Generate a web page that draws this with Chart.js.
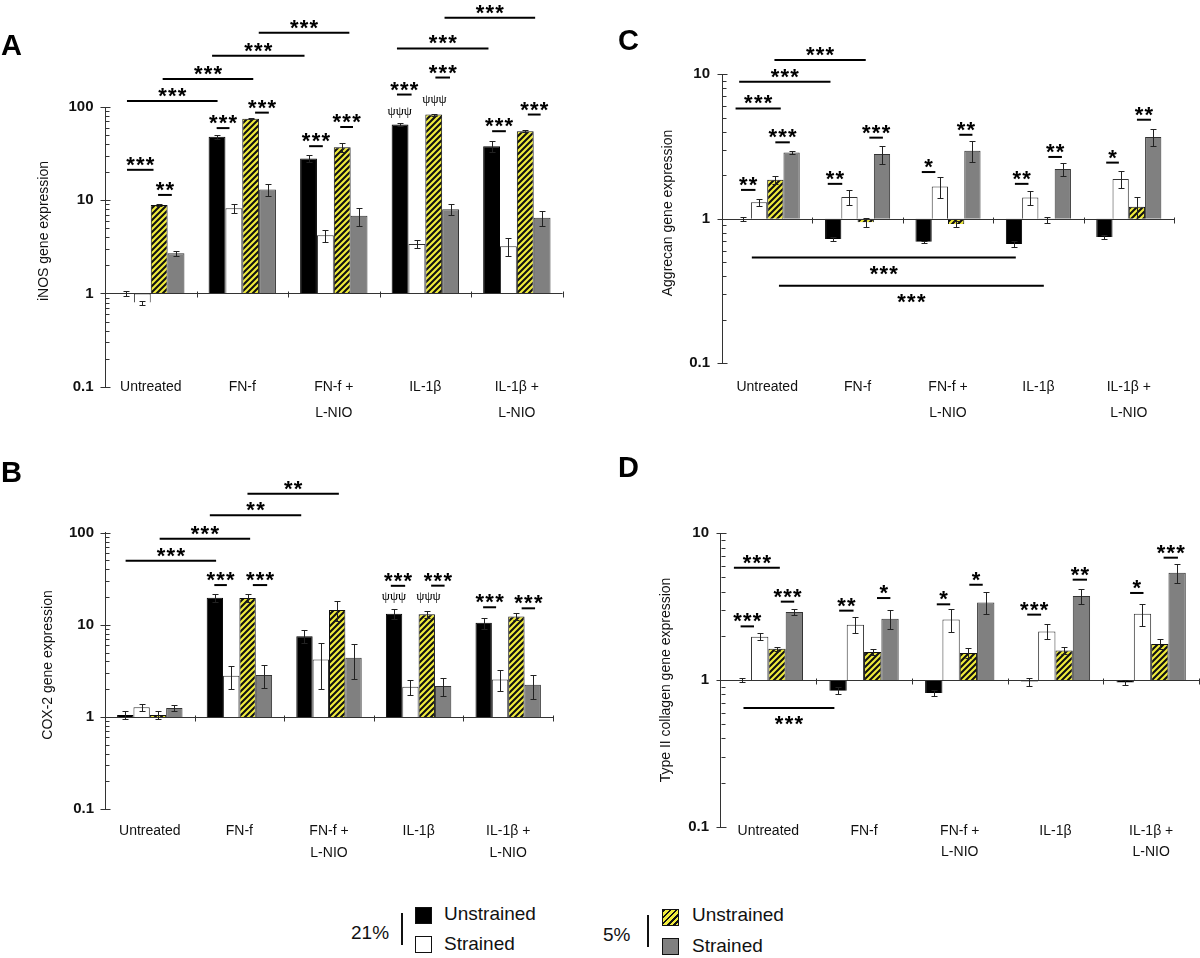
<!DOCTYPE html>
<html>
<head>
<meta charset="utf-8">
<title>Gene expression under strain and oxygen tension</title>
<script src="https://cdn.jsdelivr.net/npm/chart.js@4.4.1/dist/chart.umd.min.js"></script>
<style>
  body { margin: 0; background: #fff; width: 1200px; height: 958px; position: relative; overflow: hidden;
         font-family: "Liberation Sans", Arial, Helvetica, sans-serif; color: #111; }
  .panel { position: absolute; width: 600px; height: 440px; }
  .lg { position: absolute; font-size: 19px; line-height: 20px; white-space: nowrap; }
  .sw { position: absolute; width: 15px; height: 15px; border: 1px solid #111; }
  .bar { position: absolute; width: 2px; background: #111; }
</style>
</head>
<body>
<div class="panel" style="left:0;top:0"><canvas id="chartA" width="600" height="440"></canvas></div>
<div class="panel" style="left:0;top:440px"><canvas id="chartB" width="600" height="440"></canvas></div>
<div class="panel" style="left:600px;top:0"><canvas id="chartC" width="600" height="440"></canvas></div>
<div class="panel" style="left:600px;top:440px"><canvas id="chartD" width="600" height="440"></canvas></div>

<!-- legend shared by the four panels -->
<div class="lg" style="left:351px;top:923px">21%</div>
<div class="bar" style="left:401px;top:913px;height:32px"></div>
<div class="sw" style="left:415px;top:907px;background:#000"></div>
<div class="lg" style="left:444px;top:904px">Unstrained</div>
<div class="sw" style="left:415px;top:936px;background:#fff"></div>
<div class="lg" style="left:444px;top:934px">Strained</div>
<div class="lg" style="left:603px;top:925px">5%</div>
<div class="bar" style="left:647px;top:915px;height:32px"></div>
<div class="sw" style="left:662px;top:909px;background:repeating-linear-gradient(135deg,#111 0 2px,#f0ec3c 2px 4.3px)"></div>
<div class="lg" style="left:692px;top:905px">Unstrained</div>
<div class="sw" style="left:662px;top:938px;background:#808080"></div>
<div class="lg" style="left:692px;top:936px">Strained</div>

<script>
// categories and series
const categories = ['Untreated', 'FN-f', ['FN-f +', 'L-NIO'], 'IL-1β', ['IL-1β +', 'L-NIO']];
const seriesLabels = ['21% Unstrained', '21% Strained', '5% Unstrained', '5% Strained'];

// y tick labels (log axes)
const yTickValues = [0.1, 1, 10, 100];
const yTickLabels = ['0.1', '1', '10', '100'];

// A - iNOS
const inosUnstr21 = [1.0, 48, 28, 65, 38];
const inosStr21 = [0.8, 8.2, 4.2, 3.4, 3.2];
const inosUnstr5 = [8.9, 75, 37, 83, 55];
const inosStr5 = [2.7, 13, 6.8, 8.0, 6.5];
const inosUnstr21Err = [0.05, 2.5, 2.4, 2.5, 5.0];
const inosStr21Err = [0.04, 0.9, 0.65, 0.35, 0.7];
const inosUnstr5Err = [0.2, 1.0, 4.0, 2.0, 1.5];
const inosStr5Err = [0.15, 1.8, 1.5, 1.1, 1.2];

// B - COX-2
const coxUnstr21 = [1.05, 19.7, 7.5, 13.2, 10.5];
const coxStr21 = [1.27, 2.8, 4.2, 2.12, 2.55];
const coxUnstr5 = [1.05, 19.5, 14.5, 13.0, 12.3];
const coxStr5 = [1.25, 2.85, 4.4, 2.17, 2.23];
const coxUnstr21Err = [0.1, 2.0, 1.2, 1.5, 1.5];
const coxStr21Err = [0.1, 0.8, 2.2, 0.4, 0.65];
const coxUnstr5Err = [0.1, 2.0, 3.5, 1.0, 1.0];
const coxStr5Err = [0.1, 0.8, 1.8, 0.5, 0.65];

// C - Aggrecan
const aggUnstr21 = [1.0, 0.724, 0.693, 0.668, 0.747];
const aggStr21 = [1.3, 1.41, 1.67, 1.4, 1.88];
const aggUnstr5 = [1.86, 0.943, 0.92, 0.98, 1.21];
const aggStr5 = [2.87, 2.8, 2.95, 2.2, 3.67];
const aggUnstr21Err = [0.03, 0.025, 0.01, 0.03, 0.02];
const aggStr21Err = [0.07, 0.17, 0.27, 0.15, 0.25];
const aggUnstr5Err = [0.12, 0.07, 0.04, 0.05, 0.21];
const aggStr5Err = [0.06, 0.4, 0.47, 0.23, 0.5];

// D - Type II collagen
const colUnstr21 = [1.0, 0.845, 0.815, 0.975, 0.96];
const colStr21 = [1.97, 2.38, 2.58, 2.14, 2.83];
const colUnstr5 = [1.63, 1.55, 1.53, 1.59, 1.76];
const colStr5 = [2.91, 2.62, 3.38, 3.74, 5.39];
const colUnstr21Err = [0.03, 0.045, 0.035, 0.06, 0.035];
const colStr21Err = [0.11, 0.3, 0.45, 0.25, 0.48];
const colUnstr5Err = [0.06, 0.08, 0.12, 0.09, 0.13];
const colStr5Err = [0.15, 0.38, 0.58, 0.42, 0.8];

// significance marks: [from, to] in category units, y value, stars, side
const sigInos = [
  [-0.26, 0.73, 116, '***'], [0.13, 1.12, 200, '***'], [0.67, 1.68, 354, '***'],
  [1.18, 2.17, 625, '***'], [2.69, 3.69, 425, '***'], [3.21, 4.20, 906, '***'],
  [-0.26, 0.03, 21.2, '***'], [0.08, 0.23, 11.4, '**'],
  [0.72, 0.86, 59.4, '***'], [1.14, 1.29, 87, '***'],
  [1.73, 1.88, 38, '***'], [2.07, 2.21, 61, '***'],
  [2.69, 2.85, 136, '***'], [3.11, 3.27, 207, '***'],
  [3.73, 3.88, 55, '***'], [4.12, 4.26, 83, '***']
];
const psiInos = [[2.72, 90, 'ψψψ'], [3.10, 120, 'ψψψ']];

const sigCox = [
  [-0.27, 0.74, 49.6, '***'], [0.11, 1.12, 86, '***'], [0.67, 1.69, 155, '**'],
  [1.09, 2.11, 265, '**'],
  [0.72, 0.86, 27, '***'], [1.15, 1.31, 27, '***'],
  [2.69, 2.85, 26.5, '***'], [3.14, 3.29, 26.6, '***'],
  [3.72, 3.865, 15.5, '***'], [4.15, 4.30, 15.1, '***']
];
const psiCox = [[2.725, 20.2, 'ψψψ'], [3.11, 20.2, 'ψψψ']];

const sigAgg = [
  [-0.35, 0.15, 5.78, '***'], [-0.31, 0.70, 8.85, '***'], [0.08, 1.09, 12.5, '***'],
  [-0.17, 2.75, 0.538, '***', 'below'], [0.13, 3.06, 0.344, '***', 'below'],
  [-0.29, -0.13, 1.58, '**'], [0.09, 0.25, 3.37, '***'],
  [0.67, 0.83, 1.74, '**'], [1.13, 1.28, 3.63, '***'],
  [1.71, 1.86, 2.1, '*'], [2.125, 2.27, 3.8, '**'],
  [2.74, 2.89, 1.74, '**'], [3.11, 3.26, 2.67, '**'],
  [3.75, 3.89, 2.44, '*'], [4.09, 4.245, 4.83, '**']
];

const sigCol = [
  [-0.36, 0.12, 5.83, '***'], [-0.26, 0.69, 0.644, '***', 'below'],
  [-0.29, -0.15, 2.32, '***'], [0.13, 0.27, 3.42, '***'],
  [0.74, 0.89, 2.97, '**'], [1.135, 1.275, 3.62, '*'],
  [1.76, 1.90, 3.28, '*'], [2.10, 2.24, 4.46, '*'],
  [2.705, 2.85, 2.79, '***'], [3.18, 3.33, 4.83, '**'],
  [3.78, 3.92, 3.92, '*'], [4.13, 4.28, 6.82, '***']
];

const FONT = '"Liberation Sans", Arial, Helvetica, sans-serif';

// yellow / black diagonal hatch
function makeHatch(ctx) {
  const c = document.createElement('canvas');
  c.width = 6; c.height = 6;
  const g = c.getContext('2d');
  g.fillStyle = '#f0ec3c';
  g.fillRect(0, 0, 6, 6);
  g.strokeStyle = '#111';
  g.lineWidth = 2.1;
  g.beginPath();
  g.moveTo(-3, 3); g.lineTo(3, -3);
  g.moveTo(-1, 7); g.lineTo(7, -1);
  g.moveTo(3, 9); g.lineTo(9, 3);
  g.stroke();
  return ctx.createPattern(c, 'repeat');
}

function logTicks(min, max) {
  const out = [];
  for (let d = min; d < max * 0.99; d *= 10) {
    for (let k = 1; k <= 9; k++) out.push(Number((k * d).toPrecision(3)));
  }
  out.push(max);
  return out;
}

// baseline at 1, y ticks, error bars, significance marks, panel texts
const figurePlugin = {
  id: 'figure',
  afterDatasetsDraw(chart, args, opts) {
    const ctx = chart.ctx;
    const xs = chart.scales.x, ys = chart.scales.y;
    const area = chart.chartArea;
    const x0 = xs.getPixelForValue(0);
    const w = xs.getPixelForValue(1) - x0;
    const px = pos => x0 + pos * w;

    ctx.save();
    ctx.strokeStyle = '#333';
    ctx.lineWidth = 1;

    // line at 1 with category ticks
    const yOne = Math.round(ys.getPixelForValue(1)) + 0.5;
    ctx.beginPath();
    ctx.moveTo(area.left, yOne); ctx.lineTo(area.right, yOne);
    for (let k = 1; k <= categories.length; k++) {
      const bx = Math.round(area.left + k * w) + 0.5;
      ctx.moveTo(bx, yOne - 2); ctx.lineTo(bx, yOne + 4);
    }
    // y ticks: majors cross the axis, minors point inwards
    const ax = Math.round(area.left) + 0.5;
    ys.ticks.forEach(t => {
      const ty = Math.round(ys.getPixelForValue(t.value)) + 0.5;
      if (yTickValues.includes(t.value)) { ctx.moveTo(ax - 5, ty); ctx.lineTo(ax + 5, ty); }
      else { ctx.moveTo(ax, ty); ctx.lineTo(ax + 4, ty); }
    });
    ctx.stroke();

    // error bars
    ctx.strokeStyle = '#222';
    chart.data.datasets.forEach((ds, i) => {
      chart.getDatasetMeta(i).data.forEach((bar, j) => {
        const v = ds.data[j][1], e = ds.errors[j];
        const bx = Math.round(bar.x) + 0.5;
        const top = Math.round(ys.getPixelForValue(v + e)) + 0.5;
        const bot = Math.round(ys.getPixelForValue(v - e)) + 0.5;
        ctx.beginPath();
        ctx.moveTo(bx, top); ctx.lineTo(bx, bot);
        ctx.moveTo(bx - 3, top); ctx.lineTo(bx + 3, top);
        ctx.moveTo(bx - 3, bot); ctx.lineTo(bx + 3, bot);
        ctx.stroke();
      });
    });

    // significance lines and stars
    ctx.strokeStyle = '#000';
    ctx.fillStyle = '#000';
    ctx.lineWidth = 2;
    ctx.font = 'bold 22px ' + FONT;
    ctx.textAlign = 'center';
    ctx.textBaseline = 'alphabetic';
    opts.sig.forEach(([a, b, val, stars, side]) => {
      const x1 = px(a), x2 = px(b);
      const y = ys.getPixelForValue(val);
      ctx.beginPath();
      ctx.moveTo(x1, y); ctx.lineTo(x2, y);
      ctx.stroke();
      const cx = (x1 + x2) / 2;
      const base = side === 'below' ? y + 23 : y + 2;
      for (let k = 0; k < stars.length; k++) {
        ctx.fillText('*', cx + (k - (stars.length - 1) / 2) * 9.8, base);
      }
    });

    ctx.font = '13px "Liberation Serif", "DejaVu Serif", serif';
    ctx.textBaseline = 'middle';
    (opts.psi || []).forEach(([pos, val, txt]) => {
      ctx.fillText(txt, px(pos), ys.getPixelForValue(val));
    });

    // panel letter and axis title
    ctx.textAlign = 'left';
    ctx.textBaseline = 'alphabetic';
    ctx.font = 'bold 29px ' + FONT;
    ctx.fillText(opts.letter, opts.letterX, opts.letterY);

    ctx.translate(opts.titleX, opts.titleY);
    ctx.rotate(-Math.PI / 2);
    ctx.textAlign = 'center';
    ctx.textBaseline = 'middle';
    ctx.font = '14px ' + FONT;
    ctx.fillStyle = '#111';
    ctx.fillText(opts.title, 0, 0);
    ctx.restore();
  }
};

function buildChart(id, cfg) {
  const canvas = document.getElementById(id);
  const ctx = canvas.getContext('2d');
  const hatch = makeHatch(ctx);
  const fills = ['#000000', '#ffffff', hatch, '#808080'];
  const borders = ['#000000', '#333333', '#111111', '#333333'];

  return new Chart(ctx, {
    type: 'bar',
    data: {
      labels: categories,
      datasets: cfg.values.map((vals, i) => ({
        label: seriesLabels[i],
        data: vals.map(v => [1, v]),
        errors: cfg.errors[i],
        backgroundColor: fills[i],
        borderColor: borders[i],
        borderWidth: 1,
        borderSkipped: 'start',
        barPercentage: 1,
        categoryPercentage: cfg.catPct
      }))
    },
    options: {
      responsive: false,
      animation: false,
      layout: {
        padding: { left: 0, top: cfg.area.top, right: canvas.width - cfg.area.right, bottom: 0 }
      },
      plugins: {
        legend: { display: false },
        tooltip: { enabled: false },
        figure: {
          sig: cfg.sig, psi: cfg.psi, letter: cfg.letter,
          letterX: cfg.letterPos[0], letterY: cfg.letterPos[1],
          title: cfg.title, titleX: cfg.titlePos[0], titleY: cfg.titlePos[1]
        }
      },
      scales: {
        x: {
          afterFit: scale => {
            scale.height = canvas.height - cfg.area.bottom;
            // labels may sit a little above the axis box: do not clip them
            scale._computeLabelArea = () => undefined;
          },
          grid: { display: false, drawTicks: false },
          border: { display: false },
          ticks: {
            autoSkip: false, maxRotation: 0, padding: cfg.labelPad, color: '#111',
            font: { family: FONT, size: 14, lineHeight: cfg.labelLH / 14 }
          }
        },
        y: {
          type: 'logarithmic',
          min: 0.1,
          max: cfg.max,
          afterBuildTicks: scale => { scale.ticks = logTicks(0.1, cfg.max).map(v => ({ value: v })); },
          afterFit: scale => { scale.width = cfg.area.left; },
          grid: { display: false, drawTicks: false },
          border: { display: true, color: '#333', width: 1 },
          ticks: {
            autoSkip: false, padding: cfg.tickPad, color: '#111',
            font: { family: FONT, size: 15, weight: 'bold' },
            callback: v => {
              const i = yTickValues.indexOf(v);
              return i >= 0 ? yTickLabels[i] : '';
            }
          }
        }
      }
    },
    plugins: [figurePlugin]
  });
}

buildChart('chartA', {
  values: [inosUnstr21, inosStr21, inosUnstr5, inosStr5],
  errors: [inosUnstr21Err, inosStr21Err, inosUnstr5Err, inosStr5Err],
  sig: sigInos, psi: psiInos, max: 100, catPct: 0.736,
  area: { left: 105, right: 562.6, top: 107, bottom: 386.7 },
  labelPad: -13.3, labelLH: 26.7, tickPad: 11.5,
  letter: 'A', letterPos: [1, 55],
  title: 'iNOS gene expression', titlePos: [44, 231]
});

buildChart('chartB', {
  values: [coxUnstr21, coxStr21, coxUnstr5, coxStr5],
  errors: [coxUnstr21Err, coxStr21Err, coxUnstr5Err, coxStr5Err],
  sig: sigCox, psi: psiCox, max: 100, catPct: 0.73,
  area: { left: 105, right: 553, top: 92.7, bottom: 369 },
  labelPad: 10.4, labelLH: 22.7, tickPad: 11,
  letter: 'B', letterPos: [1, 41.7],
  title: 'COX-2 gene expression', titlePos: [48.3, 225]
});

buildChart('chartC', {
  values: [aggUnstr21, aggStr21, aggUnstr5, aggStr5],
  errors: [aggUnstr21Err, aggStr21Err, aggUnstr5Err, aggStr5Err],
  sig: sigAgg, psi: [], max: 10, catPct: 0.72,
  area: { left: 122, right: 574, top: 74, bottom: 363.3 },
  labelPad: 10, labelLH: 26.7, tickPad: 12,
  letter: 'C', letterPos: [18, 50],
  title: 'Aggrecan gene expression', titlePos: [67.7, 213]
});

buildChart('chartD', {
  values: [colUnstr21, colStr21, colUnstr5, colStr5],
  errors: [colUnstr21Err, colStr21Err, colUnstr5Err, colStr5Err],
  sig: sigCol, psi: [], max: 10, catPct: 0.724,
  area: { left: 120.5, right: 599, top: 93.3, bottom: 386.7 },
  labelPad: -6.8, labelLH: 21.7, tickPad: 11.5,
  letter: 'D', letterPos: [18, 36.7],
  title: 'Type II collagen gene expression', titlePos: [65.8, 240]
});
</script>
</body>
</html>
